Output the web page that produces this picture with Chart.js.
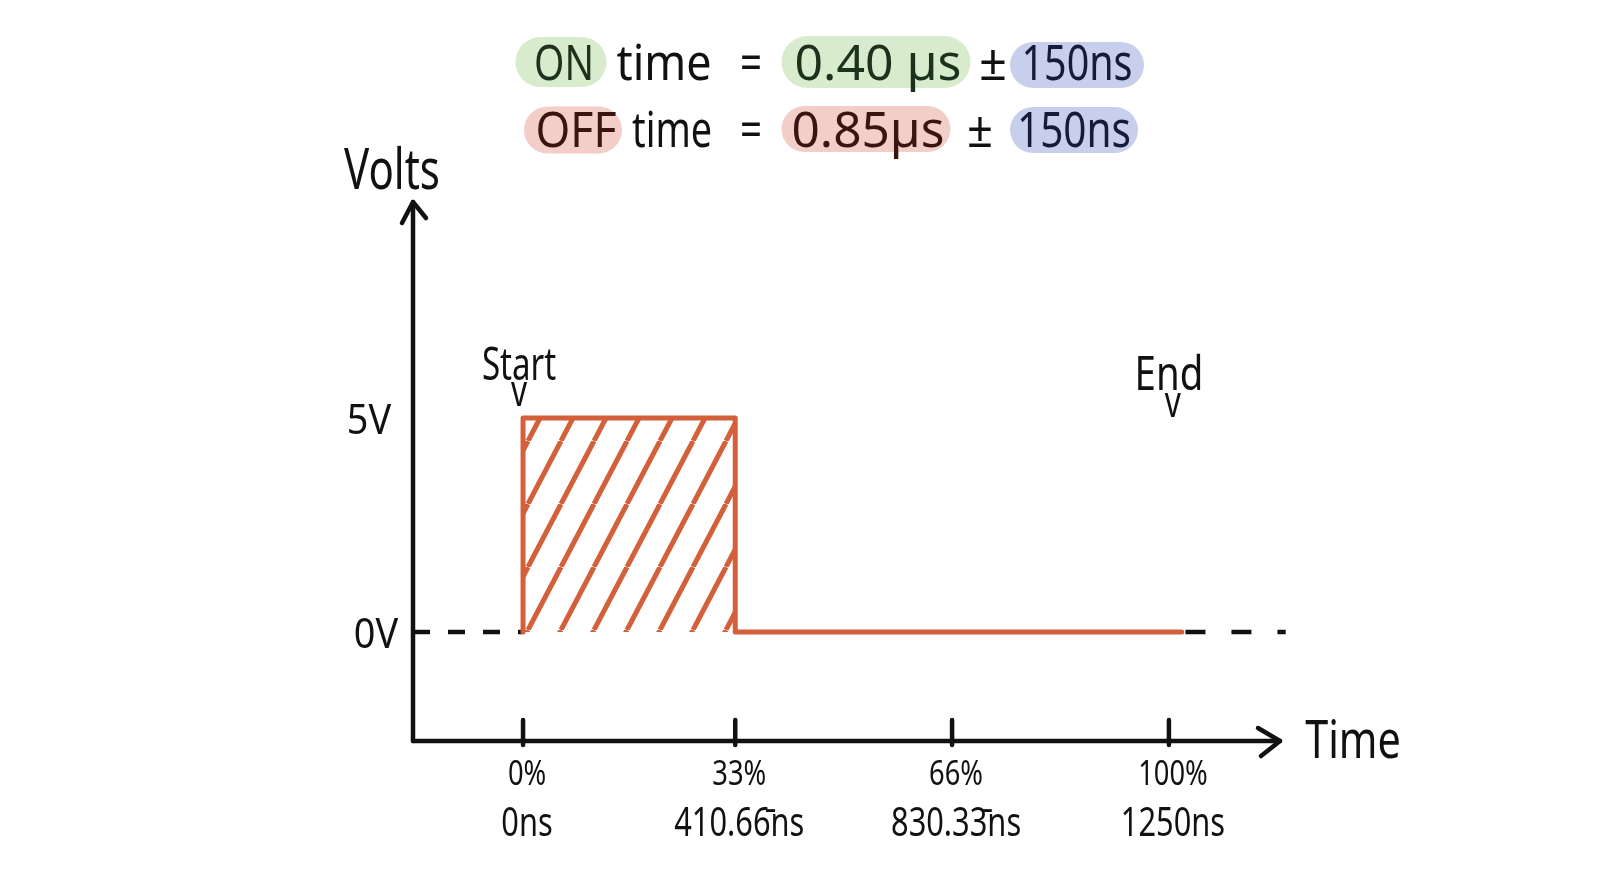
<!DOCTYPE html>
<html>
<head>
<meta charset="utf-8">
<title>ON / OFF time</title>
<script src="https://cdn.jsdelivr.net/npm/chart.js@4.4.1/dist/chart.umd.min.js"></script>
<style>
    html, body { margin: 0; padding: 0; background: #fff; }
    #wrap { position: relative; width: 1619px; height: 870px; }
</style>
</head>
<body>
<div id="wrap"><canvas id="chartPulse"></canvas></div>
<script>
// ===== DATA =====
const tickTimes = [0, 410.66, 830.33, 1250];
const tickPercent = ['0%', '33%', '66%', '100%'];
const tickNs = ['0ns', '410.66\u0304ns', '830.33\u0304ns', '1250ns'];
const voltTicks = [5, 0];
const voltLabels = ['5V', '0V'];

const pulseTimes = [0, 0, 410.66, 410.66, 1275];
const pulseVolts = [0, 5, 5, 0, 0];
const idleBeforeTimes = [-213, 0];
const idleAfterTimes = [1282, 1476];
const idleVolts = [0, 0];

const markerTimes = [0, 1250];
const markerLabels = ['Start', 'End'];

const titleOn = ['ON', 'time', '=', '0.40 µs', '±', '150ns'];
const titleOff = ['OFF', 'time', '=', '0.85µs', '±', '150ns'];

const INK = '#111111';
const ORANGE = '#d4603b';
const FONT = '"Noto Sans", "Open Sans", sans-serif';

// ===== HELPERS =====
function toPoints(xs, ys) {
    return xs.map((v, i) => ({ x: v, y: ys[i] }));
}

// diagonal hatch, ~33px apart, slope about 1.9
function makeHatch() {
    const w = 33, h = 63;
    const c = document.createElement('canvas');
    c.width = w; c.height = h;
    const g = c.getContext('2d');
    g.strokeStyle = ORANGE;
    g.lineWidth = 5;
    [-w, 0, w].forEach(off => {
        g.beginPath();
        g.moveTo(off, h);
        g.lineTo(off + w, 0);
        g.stroke();
    });
    return g.createPattern(c, 'repeat');
}

// handwritten look: tall narrow letters, so squeeze horizontally
function handText(ctx, text, cx, base, size, sx, color, width) {
    ctx.save();
    ctx.font = size + 'px ' + FONT;
    if (width) sx = width / ctx.measureText(text).width;
    ctx.translate(cx, base);
    ctx.scale(sx, 1);
    ctx.fillStyle = color || INK;
    ctx.textAlign = 'center';
    ctx.textBaseline = 'alphabetic';
    ctx.fillText(text, 0, 0);
    ctx.restore();
}

function pill(ctx, cx, cy, w, h, color) {
    ctx.save();
    ctx.fillStyle = color;
    ctx.beginPath();
    ctx.roundRect(cx - w / 2, cy - h / 2, w, h, h / 2);
    ctx.fill();
    ctx.restore();
}

// ===== AXES + LABELS PLUGIN =====
const sketchAxes = {
    id: 'sketchAxes',
    beforeDatasetsDraw(chart) {
        const { ctx, chartArea: a, scales: { x, y } } = chart;
        ctx.save();
        ctx.strokeStyle = INK;
        ctx.lineWidth = 4.5;
        ctx.lineCap = 'round';
        ctx.lineJoin = 'round';

        // y axis + arrow
        ctx.beginPath();
        ctx.moveTo(a.left, a.bottom);
        ctx.lineTo(a.left, a.top - 2);
        ctx.stroke();
        ctx.beginPath();
        ctx.moveTo(a.left - 11, a.top + 19);
        ctx.lineTo(a.left, a.top - 2);
        ctx.lineTo(a.left + 13, a.top + 14);
        ctx.stroke();

        // x axis + arrow
        ctx.beginPath();
        ctx.moveTo(a.left, a.bottom);
        ctx.lineTo(a.right, a.bottom);
        ctx.stroke();
        ctx.beginPath();
        ctx.moveTo(a.right - 22, a.bottom - 13);
        ctx.lineTo(a.right, a.bottom);
        ctx.lineTo(a.right - 19, a.bottom + 15);
        ctx.stroke();

        // tick marks
        tickTimes.forEach(t => {
            const px = x.getPixelForValue(t);
            ctx.beginPath();
            ctx.moveTo(px, a.bottom - 21);
            ctx.lineTo(px, a.bottom + 4);
            ctx.stroke();
        });
        ctx.restore();

        // tick labels
        tickTimes.forEach((t, i) => {
            const px = x.getPixelForValue(t) + 4;
            handText(ctx, tickPercent[i], px, a.bottom + 44, 35, 0.78);
            handText(ctx, tickNs[i], px, a.bottom + 95, 40, 0.77);
        });
        voltTicks.forEach((v, i) => {
            const py = y.getPixelForValue(v);
            handText(ctx, voltLabels[i], a.left - 44 + i * 7, py + 16, 42, 0.9);
        });

        // axis titles
        handText(ctx, 'Volts', a.left - 21, a.top - 15, 56, 0.75);
        handText(ctx, 'Time', a.right + 73, a.bottom + 17, 53, 0.78);

        // Start / End markers
        const top5 = y.getPixelForValue(5);
        markerTimes.forEach((t, i) => {
            const px = x.getPixelForValue(t);
            const first = i === 0;
            const lx = px + (first ? -4 : 0);
            const base = first ? top5 - 38 : top5 - 28;
            handText(ctx, markerLabels[i], lx, base, first ? 46 : 48, first ? 0.72 : 0.8);
            handText(ctx, 'v', lx + (first ? 0 : 4), base + (first ? 26 : 27), 44, 0.72);
        });

        // title with highlighter pills
        pill(ctx, 561, 62, 91, 50, '#d9ebcd');
        pill(ctx, 876, 62, 189, 52, '#d9ebcd');
        pill(ctx, 1077, 65, 134, 46, '#c8cfec');
        pill(ctx, 573, 130, 98, 47, '#f3cdc7');
        pill(ctx, 866, 129, 169, 46, '#f3cdc7');
        pill(ctx, 1074, 130, 128, 46, '#c8cfec');

        const line1 = [
            [564, 60, '#1c321c'], [664, 95, INK], [751, 22, INK],
            [878, 167, '#1c321c'], [993, 28, INK], [1077, 111, '#161b3a']
        ];
        const line2 = [
            [576, 81, '#3a1411'], [672, 80, INK], [751, 22, INK],
            [868, 153, '#3a1411'], [980, 26, INK], [1074, 114, '#161b3a']
        ];
        line1.forEach((p, i) => handText(ctx, titleOn[i], p[0], 80, 50, 1, p[2], p[1]));
        line2.forEach((p, i) => handText(ctx, titleOff[i], p[0], 147, 50, 1, p[2], p[1]));
    }
};

// ===== CHART =====
document.addEventListener('DOMContentLoaded', function() {
    const ctx = document.getElementById('chartPulse').getContext('2d');
    new Chart(ctx, {
        type: 'line',
        data: {
            datasets: [{
                label: 'Pulse',
                data: toPoints(pulseTimes, pulseVolts),
                borderColor: ORANGE,
                borderWidth: 5,
                borderCapStyle: 'round',
                borderJoinStyle: 'round',
                backgroundColor: makeHatch(),
                fill: 'origin',
                tension: 0
            }, {
                label: 'Idle before',
                data: toPoints(idleBeforeTimes, idleVolts),
                borderColor: INK,
                borderWidth: 4.5,
                borderDash: [17, 18],
                fill: false,
                clip: false
            }, {
                label: 'Idle after',
                data: toPoints(idleAfterTimes, idleVolts),
                borderColor: INK,
                borderWidth: 4.5,
                borderDash: [20, 26],
                fill: false,
                clip: false
            }]
        },
        options: {
            responsive: true,
            maintainAspectRatio: false,
            animation: false,
            layout: { padding: { left: 413, right: 339, top: 204, bottom: 129 } },
            elements: { point: { radius: 0 } },
            plugins: {
                legend: { display: false },
                tooltip: { enabled: false }
            },
            scales: {
                x: { type: 'linear', min: -213, max: 1465, display: false },
                y: { type: 'linear', min: -2.55, max: 10, display: false }
            }
        },
        plugins: [sketchAxes]
    });
});
</script>
</body>
</html>
